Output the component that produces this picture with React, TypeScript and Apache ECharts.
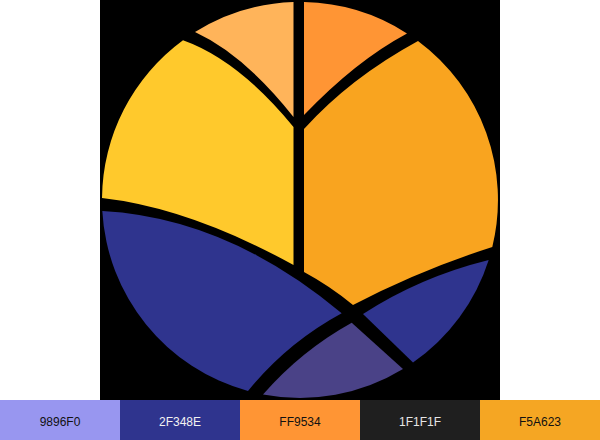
import React, { useEffect, useRef } from "react";
import * as echarts from "echarts";

// logo pieces: outline paths (circle centre 300,200 r 198), drawn on a black square
const PIECE_NAMES = [
  "leafTopLeft",
  "leafTopRight",
  "leafLeft",
  "leafRight",
  "waveLeft",
  "waveRight",
  "waveBottom",
];

const PIECE_COLORS = [
  "#FFB45A",
  "#FF9534",
  "#FFC92C",
  "#F9A41F",
  "#2F348E",
  "#2F348E",
  "#4A4287",
];

const PIECE_OUTLINES = [
  "M195 32.1 Q244.5 55 293.5 117 L293.5 2.1 A198 198 0 0 0 195 32.1 Z",
  "M304 2.04 L304 115 Q355.5 61 407 33.4 A198 198 0 0 0 304 2.04 Z",
  "M183 40.3 Q238.5 60 293.5 127 L293.5 265 Q190 208 102 198 A198 198 0 0 1 183 40.3 Z",
  "M304 129 Q350 78 418 41 A198 198 0 0 1 492.3 247 Q420 270 353 305 Q330 286 304 272 Z",
  "M102.3 211 Q227.6 217.8 341.7 313.3 Q287 343 248 391 A198 198 0 0 1 102.3 211 Z",
  "M363 314 Q420 277 488.7 260 A198 198 0 0 1 413 362.6 L363 314 Z",
  "M351.7 322.7 L403 369.1 A198 198 0 0 1 263 394.5 Q301 350.8 351.7 322.7 Z",
];

// palette strip along the bottom
const SWATCH_COLORS = ["#9896F0", "#2F348E", "#FF9534", "#1F1F1F", "#F5A623"];
const SWATCH_LABELS = ["9896F0", "2F348E", "FF9534", "1F1F1F", "F5A623"];
const SWATCH_TEXT = ["#111111", "#F2F2F2", "#111111", "#E6E6E6", "#111111"];

PIECE_NAMES.forEach((name, i) => {
  echarts.graphic.registerShape(
    name,
    echarts.graphic.extendPath(PIECE_OUTLINES[i], {}) as any
  );
});

const App: React.FC = () => {
  const chartRef = useRef<HTMLDivElement | null>(null);

  useEffect(() => {
    if (!chartRef.current) return;
    const chart = echarts.init(chartRef.current, undefined, { renderer: "svg" });

    const pieces = PIECE_NAMES.map((name, i) => ({
      type: name,
      x: 0,
      y: 0,
      shape: {},
      style: { fill: PIECE_COLORS[i] },
    }));

    const swatches = SWATCH_COLORS.map((color, i) => ({
      type: "rect",
      shape: { x: i * 120, y: 400, width: 120, height: 40 },
      style: { fill: color },
    }));

    const labels = SWATCH_LABELS.map((label, i) => ({
      type: "text",
      x: i * 120 + 60,
      y: 422,
      style: {
        text: label,
        fill: SWATCH_TEXT[i],
        font: '12px "Liberation Sans", Arial, sans-serif',
        align: "center",
        verticalAlign: "middle",
        textAlign: "center",
        textVerticalAlign: "middle",
      },
    }));

    const options: any = {
      animation: false,
      backgroundColor: "#ffffff",
      graphic: {
        elements: [
          {
            type: "rect",
            shape: { x: 100, y: 0, width: 400, height: 400 },
            style: { fill: "#000000" },
          },
          ...pieces,
          ...swatches,
          ...labels,
        ],
      },
    };

    chart.setOption(options);
    return () => chart.dispose();
  }, []);

  return (
    <div
      ref={chartRef}
      style={{ position: "fixed", left: 0, top: 0, width: "600px", height: "440px" }}
    />
  );
};

export default App;
